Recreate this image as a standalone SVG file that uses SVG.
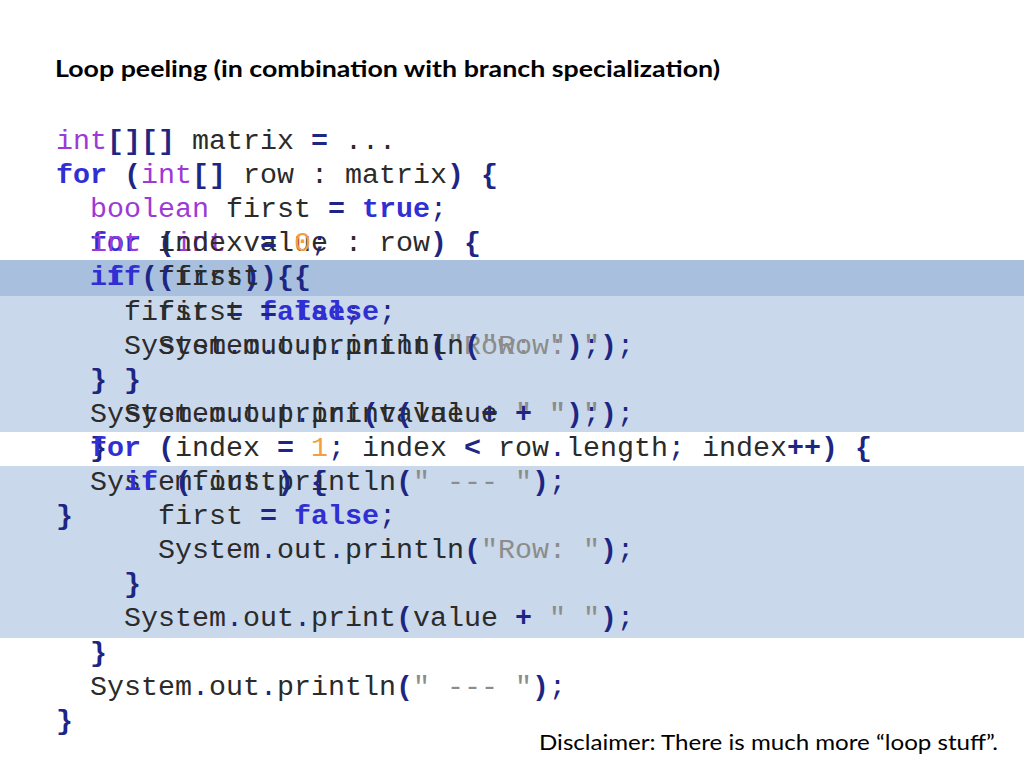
<svg xmlns="http://www.w3.org/2000/svg" width="1024" height="768" viewBox="0 0 1024 768" xml:space="preserve">
<style>
.c{font-family:"Liberation Mono","DejaVu Sans Mono",monospace;font-size:28.33px;fill:#2b2b2b}
.k{font-weight:bold;fill:#2f2fd3}
.p{font-weight:bold;fill:#1d2683}
.d{fill:#1d2683}
.t{fill:#9d3ad6}
.n{fill:#f0a040}
.s{fill:#8c8c8c}
.h{font-family:Lato,"Open Sans","Liberation Sans",sans-serif;fill:#000}
</style>
<rect width="1024" height="768" fill="#ffffff"/>
<g id="highlight">
<rect x="0" y="260" width="1024" height="36" fill="#a8bfde"/>
<rect x="0" y="296" width="1024" height="136" fill="#c9d8ea"/>
<rect x="0" y="466" width="1024" height="172" fill="#c9d8ea"/>
</g>
<text id="title" class="h" x="55" y="77" font-size="23" font-weight="bold" textLength="665" lengthAdjust="spacingAndGlyphs">Loop peeling (in combination with branch specialization)</text>
<g id="code-common" class="c">
<text x="56" y="149"><tspan class="t">int</tspan><tspan class="p">[][]</tspan> matrix <tspan class="p">=</tspan> ...</text>
<text x="56" y="183.1"><tspan class="k">for</tspan> <tspan class="p">(</tspan><tspan class="t">int</tspan><tspan class="p">[]</tspan> row : matrix<tspan class="p">)</tspan> <tspan class="p">{</tspan></text>
<text x="90" y="217.2"><tspan class="t">boolean</tspan> first <tspan class="p">=</tspan> <tspan class="k">true</tspan><tspan class="d">;</tspan></text>
</g>
<g id="code-before" class="c">
<text x="90" y="251.3"><tspan class="k">for</tspan> <tspan class="p">(</tspan><tspan class="t">int</tspan> value : row<tspan class="p">)</tspan> <tspan class="p">{</tspan></text>
<text x="90" y="285.4"><tspan class="k">if</tspan> <tspan class="p">(</tspan>first<tspan class="p">)</tspan> <tspan class="p">{</tspan></text>
<text x="124" y="319.5">first <tspan class="p">=</tspan> <tspan class="k">false</tspan><tspan class="d">;</tspan></text>
<text x="124" y="353.6">System<tspan class="d">.</tspan>out<tspan class="d">.</tspan>println<tspan class="p">(</tspan><tspan class="s">"Row: "</tspan><tspan class="p">)</tspan><tspan class="d">;</tspan></text>
<text x="90" y="387.7"><tspan class="p">}</tspan></text>
<text x="90" y="421.8">System<tspan class="d">.</tspan>out<tspan class="d">.</tspan>print<tspan class="p">(</tspan>value <tspan class="p">+</tspan> <tspan class="s">" "</tspan><tspan class="p">)</tspan><tspan class="d">;</tspan></text>
<text x="90" y="455.9"><tspan class="p">}</tspan></text>
<text x="90" y="490">System<tspan class="d">.</tspan>out<tspan class="d">.</tspan>println<tspan class="p">(</tspan><tspan class="s">" --- "</tspan><tspan class="p">)</tspan><tspan class="d">;</tspan></text>
<text x="56" y="524.1"><tspan class="p">}</tspan></text>
</g>
<g id="code-after" class="c">
<text x="90" y="251.3"><tspan class="t">int</tspan> index <tspan class="p">=</tspan> <tspan class="n">0</tspan><tspan class="d">;</tspan></text>
<text x="107" y="285.4"><tspan class="k">if</tspan> <tspan class="p">(</tspan>first<tspan class="p">)</tspan> <tspan class="p">{</tspan></text>
<text x="158" y="319.5">first <tspan class="p">=</tspan> <tspan class="k">false</tspan><tspan class="d">;</tspan></text>
<text x="158" y="353.6">System<tspan class="d">.</tspan>out<tspan class="d">.</tspan>println<tspan class="p">(</tspan><tspan class="s">"Row: "</tspan><tspan class="p">)</tspan><tspan class="d">;</tspan></text>
<text x="124" y="387.7"><tspan class="p">}</tspan></text>
<text x="124" y="421.8">System<tspan class="d">.</tspan>out<tspan class="d">.</tspan>print<tspan class="p">(</tspan>value <tspan class="p">+</tspan> <tspan class="s">" "</tspan><tspan class="p">)</tspan><tspan class="d">;</tspan></text>
<text x="90" y="455.9"><tspan class="k">for</tspan> <tspan class="p">(</tspan>index <tspan class="p">=</tspan> <tspan class="n">1</tspan><tspan class="d">;</tspan> index <tspan class="p">&lt;</tspan> row<tspan class="d">.</tspan>length<tspan class="d">;</tspan> index<tspan class="p">++)</tspan> <tspan class="p">{</tspan></text>
<text x="124" y="490"><tspan class="k">if</tspan> <tspan class="p">(</tspan>first<tspan class="p">)</tspan> <tspan class="p">{</tspan></text>
<text x="158" y="524.1">first <tspan class="p">=</tspan> <tspan class="k">false</tspan><tspan class="d">;</tspan></text>
<text x="158" y="558.2">System<tspan class="d">.</tspan>out<tspan class="d">.</tspan>println<tspan class="p">(</tspan><tspan class="s">"Row: "</tspan><tspan class="p">)</tspan><tspan class="d">;</tspan></text>
<text x="124" y="592.3"><tspan class="p">}</tspan></text>
<text x="124" y="626.4">System<tspan class="d">.</tspan>out<tspan class="d">.</tspan>print<tspan class="p">(</tspan>value <tspan class="p">+</tspan> <tspan class="s">" "</tspan><tspan class="p">)</tspan><tspan class="d">;</tspan></text>
<text x="90" y="660.5"><tspan class="p">}</tspan></text>
<text x="90" y="694.6">System<tspan class="d">.</tspan>out<tspan class="d">.</tspan>println<tspan class="p">(</tspan><tspan class="s">" --- "</tspan><tspan class="p">)</tspan><tspan class="d">;</tspan></text>
<text x="56" y="728.7"><tspan class="p">}</tspan></text>
</g>
<text id="disclaimer" class="h" x="539" y="750" font-size="21" textLength="459" lengthAdjust="spacingAndGlyphs">Disclaimer: There is much more “loop stuff”.</text>
</svg>
